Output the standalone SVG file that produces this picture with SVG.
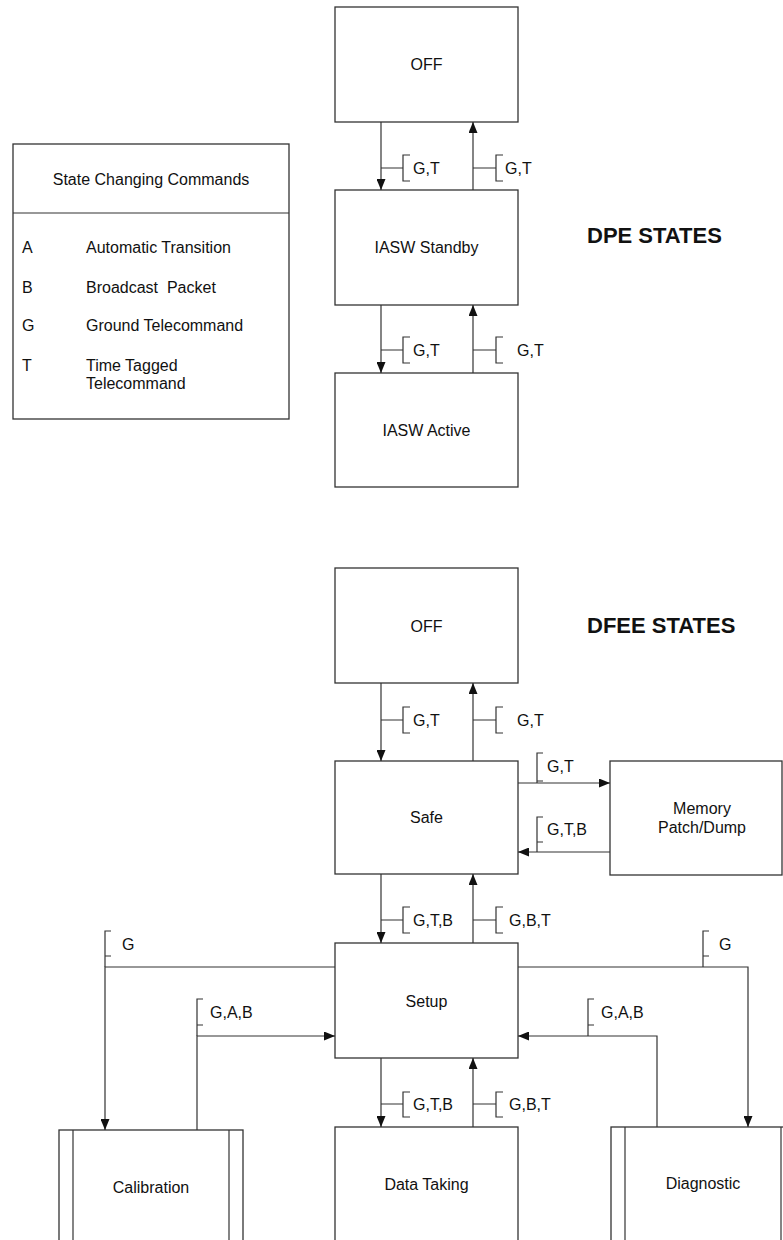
<svg xmlns="http://www.w3.org/2000/svg" width="783" height="1240" viewBox="0 0 783 1240">
<style>
.box{fill:#fff;stroke:#333;stroke-width:1.3}
.ln{fill:none;stroke:#333;stroke-width:1.2}
.br{fill:none;stroke:#333;stroke-width:1.2}
.arr{marker-end:url(#ah)}
text{font-family:"Liberation Sans",Arial,sans-serif;font-size:16px;fill:#111}
.c{text-anchor:middle}
.t{font-weight:bold;font-size:22px}
</style>
<defs>
<marker id="ah" markerUnits="userSpaceOnUse" markerWidth="11" markerHeight="9" refX="11" refY="4.5" orient="auto">
<path d="M0,0 L11,4.5 L0,9 z" fill="#111"/>
</marker>
</defs>
<rect width="783" height="1240" fill="#fff"/>

<g id="legend">
<rect class="box" x="13" y="144" width="276" height="275"/>
<line class="ln" x1="13" y1="213" x2="289" y2="213"/>
<text class="c" x="151" y="185">State Changing Commands</text>
<text x="22" y="253">A</text><text x="86" y="253">Automatic Transition</text>
<text x="22" y="293">B</text><text x="86" y="293" xml:space="preserve">Broadcast  Packet</text>
<text x="22" y="331">G</text><text x="86" y="331">Ground Telecommand</text>
<text x="22" y="371">T</text><text x="86" y="371">Time Tagged</text>
<text x="86" y="389">Telecommand</text>
</g>

<g id="titles">
<text class="t" x="587" y="243">DPE STATES</text>
<text class="t" x="587" y="633">DFEE STATES</text>
</g>

<g id="dpe-off"><rect class="box" x="335" y="7" width="183" height="115"/><text class="c" x="426.5" y="70">OFF</text></g>
<g id="dpe-standby"><rect class="box" x="335" y="190" width="183" height="115"/><text class="c" x="426.5" y="253">IASW Standby</text></g>
<g id="dpe-active"><rect class="box" x="335" y="373" width="183" height="114"/><text class="c" x="426.5" y="436">IASW Active</text></g>

<g id="dfee-off"><rect class="box" x="335" y="568" width="183" height="115"/><text class="c" x="426.5" y="632">OFF</text></g>
<g id="safe"><rect class="box" x="335" y="761" width="183" height="113"/><text class="c" x="426.5" y="823">Safe</text></g>
<g id="memory"><rect class="box" x="610" y="761" width="172" height="114"/><text class="c" x="702" y="814">Memory</text><text class="c" x="702" y="833">Patch/Dump</text></g>
<g id="setup"><rect class="box" x="335" y="943" width="183" height="115"/><text class="c" x="426.5" y="1007">Setup</text></g>
<g id="calibration"><rect class="box" x="59" y="1130" width="184" height="130"/><line class="ln" x1="73" y1="1130" x2="73" y2="1260"/><line class="ln" x1="229" y1="1130" x2="229" y2="1260"/><text class="c" x="151" y="1193">Calibration</text></g>
<g id="datataking"><rect class="box" x="335" y="1127" width="183" height="130"/><text class="c" x="426.5" y="1190">Data Taking</text></g>
<g id="diagnostic"><rect class="box" x="611" y="1127" width="184" height="130"/><line class="ln" x1="625" y1="1127" x2="625" y2="1260"/><line class="ln" x1="781" y1="1127" x2="781" y2="1260"/><text class="c" x="703" y="1189">Diagnostic</text></g>

<g id="connectors">
<line class="ln arr" x1="381" y1="122" x2="381" y2="190"/>
<line class="ln arr" x1="473" y1="190" x2="473" y2="122"/>
<line class="ln arr" x1="381" y1="305" x2="381" y2="373"/>
<line class="ln arr" x1="473" y1="373" x2="473" y2="305"/>
<line class="ln arr" x1="381" y1="683" x2="381" y2="761"/>
<line class="ln arr" x1="473" y1="761" x2="473" y2="683"/>
<line class="ln arr" x1="518" y1="783" x2="610" y2="783"/>
<line class="ln arr" x1="610" y1="852" x2="518" y2="852"/>
<line class="ln arr" x1="381" y1="874" x2="381" y2="943"/>
<line class="ln arr" x1="473" y1="943" x2="473" y2="874"/>
<line class="ln arr" x1="381" y1="1058" x2="381" y2="1127"/>
<line class="ln arr" x1="473" y1="1127" x2="473" y2="1058"/>
<polyline class="ln arr" points="335,967 105,967 105,1130"/>
<polyline class="ln arr" points="197,1130 197,1036 335,1036"/>
<polyline class="ln arr" points="518,967 748,967 748,1127"/>
<polyline class="ln arr" points="657,1127 657,1036 518,1036"/>
</g>

<g id="labels">
<path class="br" d="M381,168 H403 M410,155 H403 V181 H410"/><text x="413" y="174">G,T</text>
<path class="br" d="M473,168 H496 M503,155 H496 V181 H503"/><text x="505" y="174">G,T</text>
<path class="br" d="M381,350 H403 M410,337 H403 V363 H410"/><text x="413" y="356">G,T</text>
<path class="br" d="M473,350 H496 M503,337 H496 V363 H503"/><text x="517" y="356">G,T</text>
<path class="br" d="M381,720 H403 M410,707 H403 V733 H410"/><text x="413" y="726">G,T</text>
<path class="br" d="M473,720 H496 M503,707 H496 V733 H503"/><text x="517" y="726">G,T</text>
<path class="br" d="M543,753 H537 V783 M537,781 H543"/><text x="547" y="772">G,T</text>
<path class="br" d="M543,817 H537 V852 M537,842 H543"/><text x="547" y="835">G,T,B</text>
<path class="br" d="M381,920 H403 M410,907 H403 V933 H410"/><text x="413" y="926">G,T,B</text>
<path class="br" d="M473,920 H496 M503,907 H496 V933 H503"/><text x="509" y="926">G,B,T</text>
<path class="br" d="M381,1104 H403 M410,1092 H403 V1117 H410"/><text x="413" y="1110">G,T,B</text>
<path class="br" d="M473,1104 H496 M503,1092 H496 V1117 H503"/><text x="509" y="1110">G,B,T</text>
<path class="br" d="M111,931 H105 V967 M105,956 H111"/><text x="122" y="950">G</text>
<path class="br" d="M709,931 H703 V967 M703,956 H709"/><text x="719" y="950">G</text>
<path class="br" d="M203,999 H197 V1036 M197,1025 H203"/><text x="210" y="1018">G,A,B</text>
<path class="br" d="M594,999 H588 V1036 M588,1025 H594"/><text x="601" y="1018">G,A,B</text>
</g>
</svg>
